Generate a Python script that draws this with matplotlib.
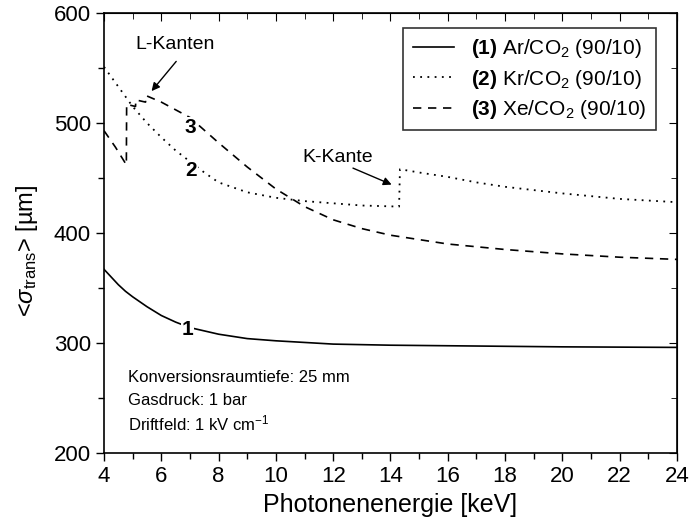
import numpy as np
import matplotlib.pyplot as plt
from matplotlib.ticker import MultipleLocator

plt.rcParams['font.family'] = ['Liberation Sans', 'DejaVu Sans']
plt.rcParams['mathtext.fontset'] = 'custom'
plt.rcParams['mathtext.rm'] = 'Liberation Sans'
plt.rcParams['mathtext.it'] = 'Liberation Sans:italic'
plt.rcParams['mathtext.bf'] = 'Liberation Sans:bold'

# (1) Ar/CO2
ar_e = [4, 4.25, 4.5, 4.75, 5, 5.5, 6, 6.5, 7, 7.5, 8, 9, 10, 11, 12, 14, 16, 20, 24]
ar_s = [367, 360, 353, 347, 342, 333, 325, 319, 314, 311, 308, 304, 302, 300.5, 299,
        298, 297.5, 296.5, 296]

# (2) Kr/CO2, K-Kante bei 14.3 keV
kr_e = [4, 4.5, 5, 5.5, 6, 6.5, 7, 7.5, 8, 9, 10, 11, 12, 13, 14.3,
        14.33, 15, 16, 17, 18, 20, 22, 24]
kr_s = [551, 533, 515, 500, 487, 475, 465, 455, 446, 437, 432, 429, 427, 425, 424,
        458, 455, 451, 446, 442, 436, 431, 428]

# (3) Xe/CO2, L-Kanten bei 4.78, 5.10, 5.45 keV
xe_e = [4, 4.4, 4.78, 4.79, 5.1, 5.11, 5.45, 5.46, 6, 7, 8, 9, 10, 11, 12,
        13, 14, 15, 16, 18, 20, 22, 24]
xe_s = [493, 478, 462, 517, 515, 521, 519, 525, 519, 505, 482, 460, 440, 424, 412,
        404, 398, 394, 390, 385, 381, 378, 376]

labels = [r'$\mathbf{(1)}$ Ar/CO$_2$ (90/10)',
          r'$\mathbf{(2)}$ Kr/CO$_2$ (90/10)',
          r'$\mathbf{(3)}$ Xe/CO$_2$ (90/10)']

fig = plt.figure(figsize=(6.92, 5.31), dpi=100)
ax = fig.add_axes([0.1503, 0.1469, 0.828, 0.8286])

ax.plot(ar_e, ar_s, 'k-', lw=1.2, label=labels[0])
ax.plot(kr_e, kr_s, 'k', ls=(0, (1, 3)), lw=1.3, label=labels[1])
ax.plot(xe_e, xe_s, 'k', ls=(0, (5, 4)), lw=1.2, label=labels[2])

ax.set_xlim(4, 24)
ax.set_ylim(200, 600)
ax.xaxis.set_major_locator(MultipleLocator(2))
ax.xaxis.set_minor_locator(MultipleLocator(1))
ax.yaxis.set_major_locator(MultipleLocator(100))
ax.yaxis.set_minor_locator(MultipleLocator(50))
ax.tick_params(which='both', direction='out', labelsize=16, width=1,
               top=False, right=False)
ax.tick_params(which='major', length=6)
ax.tick_params(which='minor', length=4)
for s in ax.spines.values():
    s.set_linewidth(1.2)

ax2 = ax.secondary_xaxis('top')
ax2.xaxis.set_major_locator(MultipleLocator(2))
ax2.xaxis.set_minor_locator(MultipleLocator(1))
ax2.tick_params(which='both', direction='in', labeltop=False)
ax2.tick_params(which='major', length=6)
ax2.tick_params(which='minor', length=4)
ay2 = ax.secondary_yaxis('right')
ay2.yaxis.set_major_locator(MultipleLocator(100))
ay2.yaxis.set_minor_locator(MultipleLocator(50))
ay2.tick_params(which='both', direction='in', labelright=False)
ay2.tick_params(which='major', length=6)
ay2.tick_params(which='minor', length=4)

ax.set_xlabel('Photonenenergie [keV]', fontsize=18)
ax.set_ylabel(r'<$\sigma_{\rm trans}$> [µm]', fontsize=17)
ax.yaxis.set_label_coords(-0.112, 0.459)

leg = ax.legend(loc='upper right', fontsize=15, frameon=True, fancybox=False,
                edgecolor='black', handlelength=2.0, borderpad=0.45,
                labelspacing=0.35, borderaxespad=0,
                bbox_to_anchor=(0.963, 0.966))
leg.get_frame().set_linewidth(1.2)

for txt, x, y in [('1', 6.9, 312), ('2', 7.05, 457), ('3', 7.0, 496)]:
    ax.text(x, y, txt, fontsize=15, fontweight='bold', ha='center', va='center',
            bbox=dict(facecolor='white', edgecolor='none', pad=0.5))

ax.text(6.48, 571, 'L-Kanten', fontsize=14, ha='center', va='center')
ax.annotate('', xy=(5.66, 529), xytext=(6.52, 556),
            arrowprops=dict(arrowstyle='-|>', color='black', lw=1,
                            shrinkA=0, shrinkB=0, mutation_scale=12))
ax.text(12.17, 469, 'K-Kante', fontsize=14, ha='center', va='center')
ax.annotate('', xy=(14.04, 444), xytext=(12.69, 459),
            arrowprops=dict(arrowstyle='-|>', color='black', lw=1,
                            shrinkA=0, shrinkB=0, mutation_scale=12))

ax.text(4.85, 269, 'Konversionsraumtiefe: 25 mm', fontsize=12, va='center')
ax.text(4.85, 248, 'Gasdruck: 1 bar', fontsize=12, va='center')
ax.text(4.85, 227, r'Driftfeld: 1 kV cm$^{-1}$', fontsize=12, va='center')

fig.savefig('out.png', dpi=100)
